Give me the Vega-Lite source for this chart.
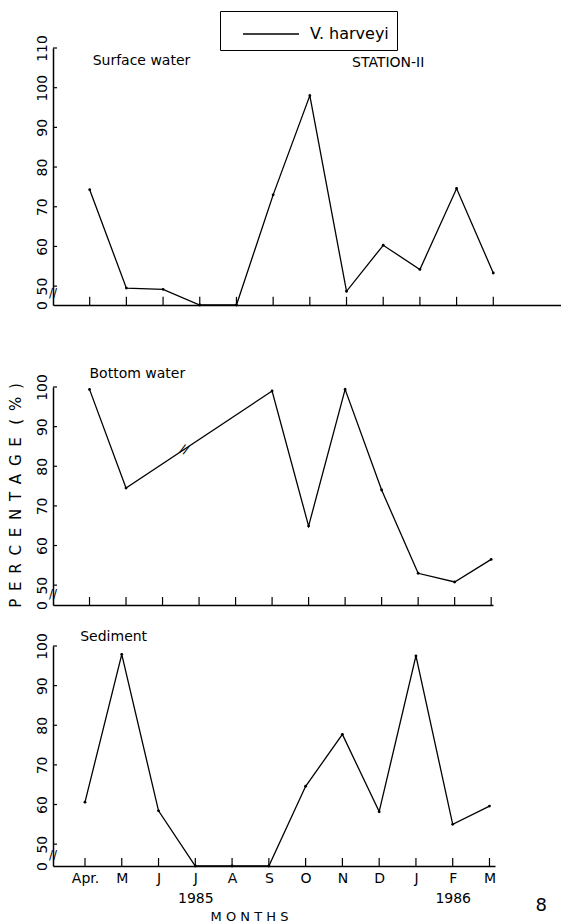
{
  "$schema": "https://vega.github.io/schema/vega-lite/v6.json",
  "padding": {"left": 8, "top": 10, "right": 0, "bottom": 0},
  "background": "white",
  "config": {
    "font": "DejaVu Sans",
    "view": {"stroke": null},
    "axis": {"domainColor": "black", "labelColor": "black", "titleColor": "black", "grid": false, "domainWidth": 1.5, "ticks": false, "labelOverlap": false, "labelFlush": false, "labelFont": "DejaVu Sans", "labelFontSize": 14},
    "line": {"color": "black", "strokeWidth": 1.3},
    "rule": {"color": "black", "strokeWidth": 1.2},
    "text": {"color": "black", "font": "DejaVu Sans", "fontSize": 14, "align": "left", "baseline": "alphabetic"}
  },
  "datasets": {
    "surface": [
      {"month": 1, "pct": 74.3, "species": "V. harveyi"},
      {"month": 2, "pct": 49.5, "species": "V. harveyi"},
      {"month": 3, "pct": 49.2, "species": "V. harveyi"},
      {"month": 4, "pct": 0, "species": "V. harveyi"},
      {"month": 5, "pct": 0, "species": "V. harveyi"},
      {"month": 6, "pct": 73, "species": "V. harveyi"},
      {"month": 7, "pct": 98, "species": "V. harveyi"},
      {"month": 8, "pct": 48.7, "species": "V. harveyi"},
      {"month": 9, "pct": 60.3, "species": "V. harveyi"},
      {"month": 10, "pct": 54.2, "species": "V. harveyi"},
      {"month": 11, "pct": 74.6, "species": "V. harveyi"},
      {"month": 12, "pct": 53.3, "species": "V. harveyi"}
    ],
    "bottom": [
      {"month": 1, "pct": 99.4},
      {"month": 2, "pct": 74.5},
      {"month": 6, "pct": 99},
      {"month": 7, "pct": 64.9},
      {"month": 8, "pct": 99.4},
      {"month": 9, "pct": 74},
      {"month": 10, "pct": 53},
      {"month": 11, "pct": 50.8},
      {"month": 12, "pct": 56.5}
    ],
    "sediment": [
      {"month": 1, "pct": 60.6},
      {"month": 2, "pct": 97.9},
      {"month": 3, "pct": 58.4},
      {"month": 4, "pct": 0},
      {"month": 5, "pct": 0},
      {"month": 6, "pct": 0},
      {"month": 7, "pct": 64.6},
      {"month": 8, "pct": 77.7},
      {"month": 9, "pct": 58.2},
      {"month": 10, "pct": 97.5},
      {"month": 11, "pct": 55},
      {"month": 12, "pct": 59.6}
    ],
    "xticks": [
      {"month": 1}, {"month": 2}, {"month": 3}, {"month": 4}, {"month": 5}, {"month": 6},
      {"month": 7}, {"month": 8}, {"month": 9}, {"month": 10}, {"month": 11}, {"month": 12}
    ],
    "yticks110": [{"v": 50}, {"v": 60}, {"v": 70}, {"v": 80}, {"v": 90}, {"v": 100}, {"v": 110}],
    "yticks100": [{"v": 50}, {"v": 60}, {"v": 70}, {"v": 80}, {"v": 90}, {"v": 100}]
  },
  "bounds": "flush",
  "spacing": 41,
  "vconcat": [
    {
      "width": 510,
      "height": 257,
      "layer": [
        {
          "data": {"name": "surface"},
          "mark": {"type": "line", "point": {"size": 8, "filled": true}},
          "encoding": {
            "x": {"field": "month", "type": "quantitative", "scale": {"domain": [0, 13.9], "nice": false, "zero": false},
                  "axis": {"values": [1,2,3,4,5,6,7,8,9,10,11,12], "labels": false, "title": null}},
            "y": {"field": "pct", "type": "quantitative", "scale": {"domain": [0, 46, 110], "range": [257, 254, 0], "nice": false, "zero": false},
                  "axis": {"values": [0,50,60,70,80,90,100,110], "labelAngle": -90, "title": null, "labelPadding": 4, "labelOverlap": false}},
            "color": {"field": "species", "type": "nominal", "scale": {"range": ["black"]},
                      "legend": {"orient": "none", "legendX": 167, "legendY": -37, "title": null, "symbolType": "M-2,0H2", "symbolSize": 784, "symbolStrokeWidth": 1.2, "labelFontSize": 16, "labelFont": "DejaVu Sans", "labelColor": "black", "strokeColor": "black", "padding": 8, "symbolOffset": 28, "labelOffset": 24}}
          }
        },
        {
          "data": {"name": "xticks"},
          "mark": {"type": "rule"},
          "encoding": {
            "x": {"field": "month", "type": "quantitative", "axis": {"values": [1,2,3,4,5,6,7,8,9,10,11,12], "labels": false, "title": null}},
            "y": {"datum": 0, "axis": {"values": [0,50,60,70,80,90,100,110], "labelAngle": -90, "title": null, "labelPadding": 4, "labelOverlap": false}},
            "y2": {"datum": 47.3}
          }
        },
        {
          "data": {"name": "yticks110"},
          "mark": {"type": "rule"},
          "encoding": {
            "y": {"field": "v", "type": "quantitative", "axis": {"values": [0,50,60,70,80,90,100,110], "labelAngle": -90, "title": null, "labelPadding": 4, "labelOverlap": false}},
            "x": {"datum": 0, "axis": {"values": [1,2,3,4,5,6,7,8,9,10,11,12], "labels": false, "title": null}},
            "x2": {"datum": 0.11}
          }
        },
        {
          "data": {"values": [{}]},
          "mark": {"type": "text", "text": "//", "fontSize": 12, "align": "center", "baseline": "middle"},
          "encoding": {
            "x": {"datum": 0, "axis": {"values": [1,2,3,4,5,6,7,8,9,10,11,12], "labels": false, "title": null}},
            "y": {"datum": 48.2, "axis": {"values": [0,50,60,70,80,90,100,110], "labelAngle": -90, "title": null, "labelPadding": 4, "labelOverlap": false}}
          }
        },
        {
          "data": {"values": [{}]},
          "mark": {"type": "text", "text": "Surface water"},
          "encoding": {
            "x": {"datum": 1.08, "axis": {"values": [1,2,3,4,5,6,7,8,9,10,11,12], "labels": false, "title": null}},
            "y": {"datum": 105.7, "axis": {"values": [0,50,60,70,80,90,100,110], "labelAngle": -90, "title": null, "labelPadding": 4, "labelOverlap": false}}
          }
        },
        {
          "data": {"values": [{}]},
          "mark": {"type": "text", "text": "STATION-II"},
          "encoding": {
            "x": {"datum": 8.15, "axis": {"values": [1,2,3,4,5,6,7,8,9,10,11,12], "labels": false, "title": null}},
            "y": {"datum": 105.2, "axis": {"values": [0,50,60,70,80,90,100,110], "labelAngle": -90, "title": null, "labelPadding": 4, "labelOverlap": false}}
          }
        }
      ]
    },
    {
      "width": 440,
      "height": 259,
      "layer": [
        {
          "data": {"name": "bottom"},
          "mark": {"type": "line", "point": {"size": 8, "filled": true, "color": "black"}},
          "encoding": {
            "x": {"field": "month", "type": "quantitative", "scale": {"domain": [0, 12.05], "nice": false, "zero": false},
                  "axis": {"values": [1,2,3,4,5,6,7,8,9,10,11,12], "labels": false, "title": null}},
            "y": {"field": "pct", "type": "quantitative", "scale": {"domain": [0, 46, 100], "range": [259, 255, 41], "nice": false, "zero": false},
                  "axis": {"values": [0,50,60,70,80,90,100], "labelAngle": -90, "labelPadding": 4, "labelOverlap": false,
                           "title": "P \u2009E \u2009R \u2009C \u2009E \u2009N \u2009T \u2009A \u2009G \u2009E \u2009 ( \u2009% \u2009)", "titleFontSize": 15, "titleFontWeight": "normal", "titlePadding": 12, "titleY": 149}}
          }
        },
        {
          "data": {"name": "xticks"},
          "mark": {"type": "rule"},
          "encoding": {
            "x": {"field": "month", "type": "quantitative", "axis": {"values": [1,2,3,4,5,6,7,8,9,10,11,12], "labels": false, "title": null}},
            "y": {"datum": 0, "axis": {"values": [0,50,60,70,80,90,100], "labelAngle": -90, "labelPadding": 4, "labelOverlap": false,
                           "title": "P \u2009E \u2009R \u2009C \u2009E \u2009N \u2009T \u2009A \u2009G \u2009E \u2009 ( \u2009% \u2009)", "titleFontSize": 15, "titleFontWeight": "normal", "titlePadding": 12, "titleY": 149}},
            "y2": {"datum": 47.0}
          }
        },
        {
          "data": {"name": "yticks100"},
          "mark": {"type": "rule"},
          "encoding": {
            "y": {"field": "v", "type": "quantitative", "axis": {"values": [0,50,60,70,80,90,100], "labelAngle": -90, "labelPadding": 4, "labelOverlap": false,
                           "title": "P \u2009E \u2009R \u2009C \u2009E \u2009N \u2009T \u2009A \u2009G \u2009E \u2009 ( \u2009% \u2009)", "titleFontSize": 15, "titleFontWeight": "normal", "titlePadding": 12, "titleY": 149}},
            "x": {"datum": 0, "axis": {"values": [1,2,3,4,5,6,7,8,9,10,11,12], "labels": false, "title": null}},
            "x2": {"datum": 0.11}
          }
        },
        {
          "data": {"values": [{}]},
          "mark": {"type": "text", "text": "//", "fontSize": 12, "align": "center", "baseline": "middle"},
          "encoding": {
            "x": {"datum": 0, "axis": {"values": [1,2,3,4,5,6,7,8,9,10,11,12], "labels": false, "title": null}},
            "y": {"datum": 47.8, "axis": {"values": [0,50,60,70,80,90,100], "labelAngle": -90, "labelPadding": 4, "labelOverlap": false,
                           "title": "P \u2009E \u2009R \u2009C \u2009E \u2009N \u2009T \u2009A \u2009G \u2009E \u2009 ( \u2009% \u2009)", "titleFontSize": 15, "titleFontWeight": "normal", "titlePadding": 12, "titleY": 149}}
          }
        },
        {
          "data": {"values": [{}]},
          "mark": {"type": "text", "text": "//", "fontSize": 12, "align": "center", "baseline": "middle", "angle": 20},
          "encoding": {
            "x": {"datum": 3.6, "axis": {"values": [1,2,3,4,5,6,7,8,9,10,11,12], "labels": false, "title": null}},
            "y": {"datum": 84.3, "axis": {"values": [0,50,60,70,80,90,100], "labelAngle": -90, "labelPadding": 4, "labelOverlap": false,
                           "title": "P \u2009E \u2009R \u2009C \u2009E \u2009N \u2009T \u2009A \u2009G \u2009E \u2009 ( \u2009% \u2009)", "titleFontSize": 15, "titleFontWeight": "normal", "titlePadding": 12, "titleY": 149}}
          }
        },
        {
          "data": {"values": [{}]},
          "mark": {"type": "text", "text": "Bottom water"},
          "encoding": {
            "x": {"datum": 1.0, "axis": {"values": [1,2,3,4,5,6,7,8,9,10,11,12], "labels": false, "title": null}},
            "y": {"datum": 102.3, "axis": {"values": [0,50,60,70,80,90,100], "labelAngle": -90, "labelPadding": 4, "labelOverlap": false,
                           "title": "P \u2009E \u2009R \u2009C \u2009E \u2009N \u2009T \u2009A \u2009G \u2009E \u2009 ( \u2009% \u2009)", "titleFontSize": 15, "titleFontWeight": "normal", "titlePadding": 12, "titleY": 149}}
          }
        }
      ]
    },
    {
      "width": 442,
      "height": 220,
      "layer": [
        {
          "data": {"name": "sediment"},
          "mark": {"type": "line", "point": {"size": 8, "filled": true, "color": "black"}},
          "encoding": {
            "x": {"field": "month", "type": "quantitative", "scale": {"domain": [0.13, 12.15], "nice": false, "zero": false},
                  "axis": {"values": [1,2,3,4,5,6,7,8,9,10,11,12], "labelPadding": 5, "labelLineHeight": 20, "labelFontSize": 14, "labelBaseline": "top",
                           "labelExpr": "[['Apr.'],['M'],['J'],['J','1985'],['A'],['S'],['O'],['N'],['D'],['J'],['F','1986'],['M']][datum.value-1]",
                           "title": "M O N T H S", "titleFontSize": 13, "titleFontWeight": "normal", "titleX": 196, "titleY": 54, "titleBaseline": "alphabetic"}},
            "y": {"field": "pct", "type": "quantitative", "scale": {"domain": [0, 46, 100], "range": [220, 214, 0], "nice": false, "zero": false},
                  "axis": {"values": [0,50,60,70,80,90,100], "labelAngle": -90, "title": null, "labelPadding": 4, "labelOverlap": false}}
          }
        },
        {
          "data": {"name": "xticks"},
          "mark": {"type": "rule"},
          "encoding": {
            "x": {"field": "month", "type": "quantitative", "axis": {"values": [1,2,3,4,5,6,7,8,9,10,11,12], "labelPadding": 5, "labelLineHeight": 20, "labelFontSize": 14, "labelBaseline": "top",
                           "labelExpr": "[['Apr.'],['M'],['J'],['J','1985'],['A'],['S'],['O'],['N'],['D'],['J'],['F','1986'],['M']][datum.value-1]",
                           "title": "M O N T H S", "titleFontSize": 13, "titleFontWeight": "normal", "titleX": 196, "titleY": 54, "titleBaseline": "alphabetic"}},
            "y": {"datum": 0, "axis": {"values": [0,50,60,70,80,90,100], "labelAngle": -90, "title": null, "labelPadding": 4, "labelOverlap": false}},
            "y2": {"datum": 46.5}
          }
        },
        {
          "data": {"name": "yticks100"},
          "mark": {"type": "rule"},
          "encoding": {
            "y": {"field": "v", "type": "quantitative", "axis": {"values": [0,50,60,70,80,90,100], "labelAngle": -90, "title": null, "labelPadding": 4, "labelOverlap": false}},
            "x": {"datum": 0.13, "axis": {"values": [1,2,3,4,5,6,7,8,9,10,11,12], "labelPadding": 5, "labelLineHeight": 20, "labelFontSize": 14, "labelBaseline": "top",
                           "labelExpr": "[['Apr.'],['M'],['J'],['J','1985'],['A'],['S'],['O'],['N'],['D'],['J'],['F','1986'],['M']][datum.value-1]",
                           "title": "M O N T H S", "titleFontSize": 13, "titleFontWeight": "normal", "titleX": 196, "titleY": 54, "titleBaseline": "alphabetic"}},
            "x2": {"datum": 0.24}
          }
        },
        {
          "data": {"values": [{}]},
          "mark": {"type": "text", "text": "//", "fontSize": 12, "align": "center", "baseline": "middle"},
          "encoding": {
            "x": {"datum": 0.13, "axis": {"values": [1,2,3,4,5,6,7,8,9,10,11,12], "labelPadding": 5, "labelLineHeight": 20, "labelFontSize": 14, "labelBaseline": "top",
                           "labelExpr": "[['Apr.'],['M'],['J'],['J','1985'],['A'],['S'],['O'],['N'],['D'],['J'],['F','1986'],['M']][datum.value-1]",
                           "title": "M O N T H S", "titleFontSize": 13, "titleFontWeight": "normal", "titleX": 196, "titleY": 54, "titleBaseline": "alphabetic"}},
            "y": {"datum": 47.3, "axis": {"values": [0,50,60,70,80,90,100], "labelAngle": -90, "title": null, "labelPadding": 4, "labelOverlap": false}}
          }
        },
        {
          "data": {"values": [{}]},
          "mark": {"type": "text", "text": "Sediment"},
          "encoding": {
            "x": {"datum": 0.87, "axis": {"values": [1,2,3,4,5,6,7,8,9,10,11,12], "labelPadding": 5, "labelLineHeight": 20, "labelFontSize": 14, "labelBaseline": "top",
                           "labelExpr": "[['Apr.'],['M'],['J'],['J','1985'],['A'],['S'],['O'],['N'],['D'],['J'],['F','1986'],['M']][datum.value-1]",
                           "title": "M O N T H S", "titleFontSize": 13, "titleFontWeight": "normal", "titleX": 196, "titleY": 54, "titleBaseline": "alphabetic"}},
            "y": {"datum": 101.3, "axis": {"values": [0,50,60,70,80,90,100], "labelAngle": -90, "title": null, "labelPadding": 4, "labelOverlap": false}}
          }
        },
        {
          "data": {"values": [{}]},
          "mark": {"type": "text", "text": "8", "fontSize": 18, "dy": 45},
          "encoding": {
            "x": {"datum": 13.25, "axis": {"values": [1,2,3,4,5,6,7,8,9,10,11,12], "labelPadding": 5, "labelLineHeight": 20, "labelFontSize": 14, "labelBaseline": "top",
                           "labelExpr": "[['Apr.'],['M'],['J'],['J','1985'],['A'],['S'],['O'],['N'],['D'],['J'],['F','1986'],['M']][datum.value-1]",
                           "title": "M O N T H S", "titleFontSize": 13, "titleFontWeight": "normal", "titleX": 196, "titleY": 54, "titleBaseline": "alphabetic"}},
            "y": {"datum": 0, "axis": {"values": [0,50,60,70,80,90,100], "labelAngle": -90, "title": null, "labelPadding": 4, "labelOverlap": false}}
          }
        }
      ]
    }
  ]
}
